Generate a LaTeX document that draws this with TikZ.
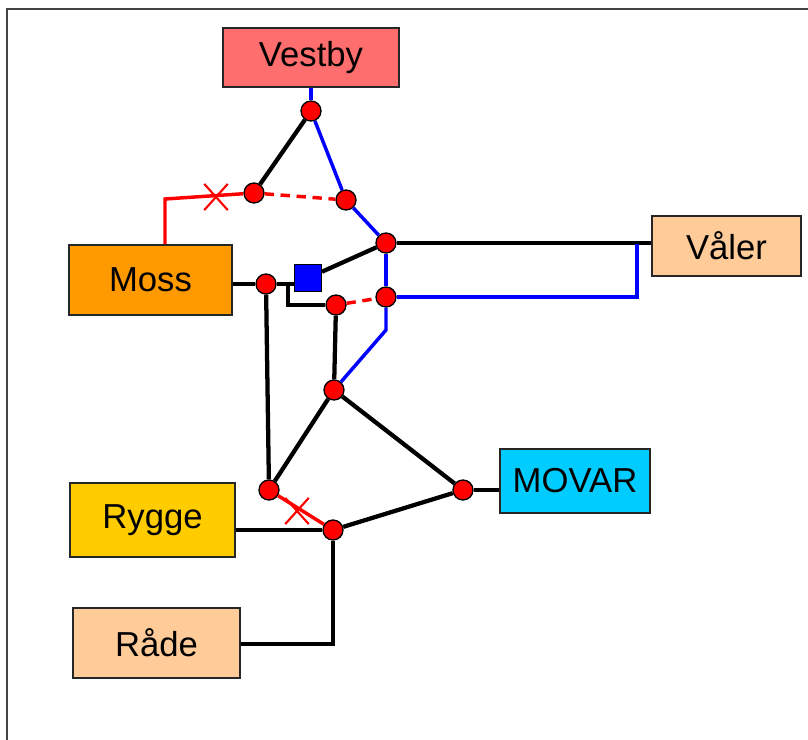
\documentclass[tikz,border=0pt]{standalone}
\usepackage{fontspec}
\setmainfont{Liberation Sans}
\usetikzlibrary{shapes.misc}
\definecolor{cVestby}{HTML}{FF6E6E}
\definecolor{cMoss}{HTML}{FF9900}
\definecolor{cPeach}{HTML}{FFCC99}
\definecolor{cMovar}{HTML}{00CCFF}
\definecolor{cRygge}{HTML}{FFCC00}
\definecolor{cFrame}{HTML}{444444}
\tikzset{
  place/.style={draw=black!85, line width=1.3pt, inner sep=0pt, font=\fontsize{26}{31}\selectfont},
  junction/.style={circle, fill=red, draw=black, line width=1pt, minimum size=15pt, inner sep=0pt},
  sqnode/.style={rectangle, fill=blue, draw=black, line width=1pt, minimum size=20pt, inner sep=0pt},
  xmark/.style={cross out, draw=red, line width=1.6pt, minimum width=16pt, minimum height=18pt, inner sep=0pt},
  bl/.style={black, line width=3.2pt},
  bu/.style={blue, line width=2.6pt},
  rd/.style={red, line width=2.6pt},
  rdd/.style={red, line width=2.6pt, dash pattern=on 7pt off 5pt},
}
\begin{document}
\begin{tikzpicture}[x=0.75pt, y=-0.75pt]
\useasboundingbox (0,0) rectangle (808,740);
\draw[cFrame, line width=1.5pt] (7,745) -- (7,9) -- (815,9);

% places
\node[place, fill=cVestby, minimum width=132pt, minimum height=44.25pt] (Vestby) at (311,57.5) {Vestby};
\node[place, fill=cMoss, minimum width=122.25pt, minimum height=52.5pt] (Moss) at (150.5,280) {Moss};
\node[place, fill=cPeach, minimum width=111.75pt, minimum height=45pt] (Valer) at (726.5,246) {Våler};
\node[place, fill=cMovar, minimum width=112.5pt, minimum height=48pt] (Movar) at (575,481) {MOVAR};
\node[place, fill=cRygge, minimum width=123.75pt, minimum height=55.5pt] (Rygge) at (152.5,520) {Rygge};
\node[place, fill=cPeach, minimum width=125.25pt, minimum height=52.5pt] (Rade) at (156.5,643) {Råde};

% bend points
\coordinate (c1) at (165,199);
\coordinate (c2) at (637,297);
\coordinate (c3) at (637,244);
\coordinate (c4) at (386,330);
\coordinate (c5) at (288,284);
\coordinate (c6) at (288,305);
\coordinate (c7) at (333,644);

% junctions
\node[junction] (A) at (311,111) {};
\node[junction] (B) at (254,193) {};
\node[junction] (C) at (346,200) {};
\node[junction] (D) at (386,243) {};
\node[sqnode] (E) at (308,278) {};
\node[junction] (F) at (266,284) {};
\node[junction] (G) at (336,305) {};
\node[junction] (H) at (386,297) {};
\node[junction] (I) at (334,390) {};
\node[junction] (J) at (269,490) {};
\node[junction] (K) at (463,490) {};
\node[junction] (L) at (333,530) {};

% connectors
\draw[bu] (Vestby.south) -- (A);
\draw[bl] (A) -- (B);
\draw[bu] (A) -- (C);
\draw[rdd] (B) -- (C);
\draw[rd] (B) -- (c1) -- (c1 |- Moss.north);
\node[xmark] (X1) at (216,197) {};
\draw[bu] (C) -- (D);
\draw[bl] (D) -- (D -| Valer.west);
\draw[bl] (E) -- (D);
\draw[bl] (Moss.east |- F) -- (F);
\draw[bl] (F) -- (F -| E.west);
\draw[bl] (c5) -- (c6) -- (G);
\draw[rdd] (G) -- (H);
\draw[bu] (D) -- (H);
\draw[bu] (H) -- (c2) -- (c3);
\draw[bu] (H) -- (c4) -- (I);
\draw[bl] (G) -- (I);
\draw[bl] (F) -- (J);
\draw[bl] (J) -- (I);
\draw[bl] (I) -- (K);
\draw[bl] (K) -- (K -| Movar.west);
\draw[rd] (J) -- (L);
\node[xmark] (X2) at (297,511) {};
\draw[bl] (L) -- (K);
\draw[bl] (Rygge.east |- L) -- (L);
\draw[bl] (L) -- (c7) -- (c7 -| Rade.east);
\end{tikzpicture}
\end{document}
